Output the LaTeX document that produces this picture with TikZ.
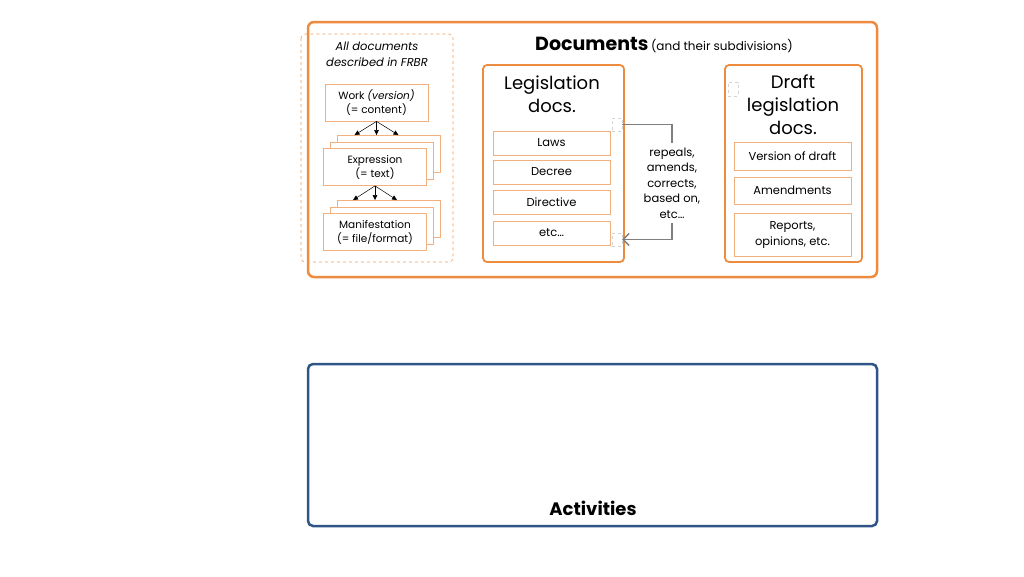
\documentclass[tikz,border=0pt]{standalone}
\usepackage{fontspec}
\setmainfont{Poppins}
\usetikzlibrary{arrows.meta}
\definecolor{docorange}{HTML}{ED8B3F}
\definecolor{subedge}{HTML}{F2B07E}
\definecolor{actblue}{HTML}{2F5487}
\definecolor{linkgray}{HTML}{7F7F7F}

\begin{document}
\begin{tikzpicture}[x=1pt,y=-1pt,
  smalltxt/.style={font=\fontsize{11.5}{15.5}\selectfont},
  bigtxt/.style={font=\fontsize{18}{23}\selectfont,align=center,inner sep=0pt},
  subbox/.style={draw=subedge,line width=0.8pt,fill=white,minimum width=117pt,
    minimum height=24pt,inner sep=0pt,align=center,smalltxt},
  frbrbox/.style={draw=subedge,line width=0.8pt,fill=white,minimum width=103pt,
    minimum height=37pt,inner sep=0pt,align=center,font=\fontsize{10.5}{14}\selectfont},
  handle/.style={draw=gray!35,dashed,line width=0.4pt,minimum width=10pt,
    minimum height=13pt,inner sep=0pt},
  tip/.style={-{Triangle[length=5pt,width=4.5pt]},line width=0.5pt}]

\useasboundingbox (0,0) rectangle (1024,576);

% documents frame
\draw[docorange,line width=2.5pt,rounded corners=6pt] (308,22) rectangle (877,277);
\node[anchor=base west,inner sep=0pt] (title) at (535,50)
  {{\fontsize{19}{22}\selectfont\bfseries Documents} {\fontsize{12}{14}\selectfont(and their subdivisions)}};

% FRBR group
\draw[docorange!85,dashed,line width=0.6pt,rounded corners=4pt] (301,34) rectangle (453,262);
\node[align=center,font=\fontsize{11.5}{16}\selectfont\itshape] (frbr) at (377,54)
  {All documents\\described in FRBR};

\node[frbrbox] (work) at (376.5,102.5) {Work \textit{(version)}\\(= content)};

\node[frbrbox] (expr3) at (389,154) {};
\node[frbrbox] (expr2) at (382,161) {};
\node[frbrbox] (expr) at (375,167) {Expression\\(= text)};

\node[frbrbox] (mani3) at (389,219) {};
\node[frbrbox] (mani2) at (382,226) {};
\node[frbrbox] (mani) at (375,232) {Manifestation\\(= file/format)};

\foreach \dx in {-22,0,22}
  \draw[tip] (work.south) -- ([xshift=\dx pt]work.south |- expr3.north);
\foreach \dx in {-22,0,22}
  \draw[tip] (expr.south) -- ([xshift=\dx pt]expr.south |- mani3.north);

% legislation docs
\draw[docorange,line width=1.8pt,rounded corners=4pt] (483,65) rectangle (624,262);
\node[bigtxt] (legis) at (552,94) {Legislation\\docs.};
\node[subbox] (laws) at (551.5,143) {Laws};
\node[subbox] (decree) at (551.5,172) {Decree};
\node[subbox] (directive) at (551.5,202) {Directive};
\node[subbox] (etc) at (551.5,233) {etc…};

% relation between legislation docs
\node[handle] (hndA) at (617,124.5) {};
\node[handle] (hndB) at (617,239.5) {};
\node[align=center,smalltxt,inner sep=4pt] (rel) at (672,183)
  {repeals,\\amends,\\corrects,\\based on,\\etc…};
\draw[linkgray,line width=1.4pt] (hndA.east) -| (rel.north);
\draw[linkgray,line width=1.4pt,-{Straight Barb[length=6pt,width=12pt]}] (rel.south) |- (hndB.east);

% draft legislation docs
\draw[docorange,line width=1.8pt,rounded corners=4pt] (725,65) rectangle (862,262);
\node[handle,minimum height=14pt] (hndC) at (733,89) {};
\node[bigtxt] (draft) at (793,105) {Draft\\legislation\\docs.};
\node[subbox,minimum height=28pt] (version) at (792.5,156) {Version of draft};
\node[subbox,minimum height=27pt] (amend) at (792.5,190.5) {Amendments};
\node[subbox,minimum height=43pt,font=\fontsize{11.5}{16}\selectfont] (reports) at (792.5,234.5) {Reports,\\opinions, etc.};

% activities frame
\draw[actblue,line width=2.5pt,rounded corners=5pt] (308,364) rectangle (877,526);
\node[font=\fontsize{18}{21}\selectfont\bfseries] (act) at (593,508) {Activities};

\end{tikzpicture}
\end{document}
